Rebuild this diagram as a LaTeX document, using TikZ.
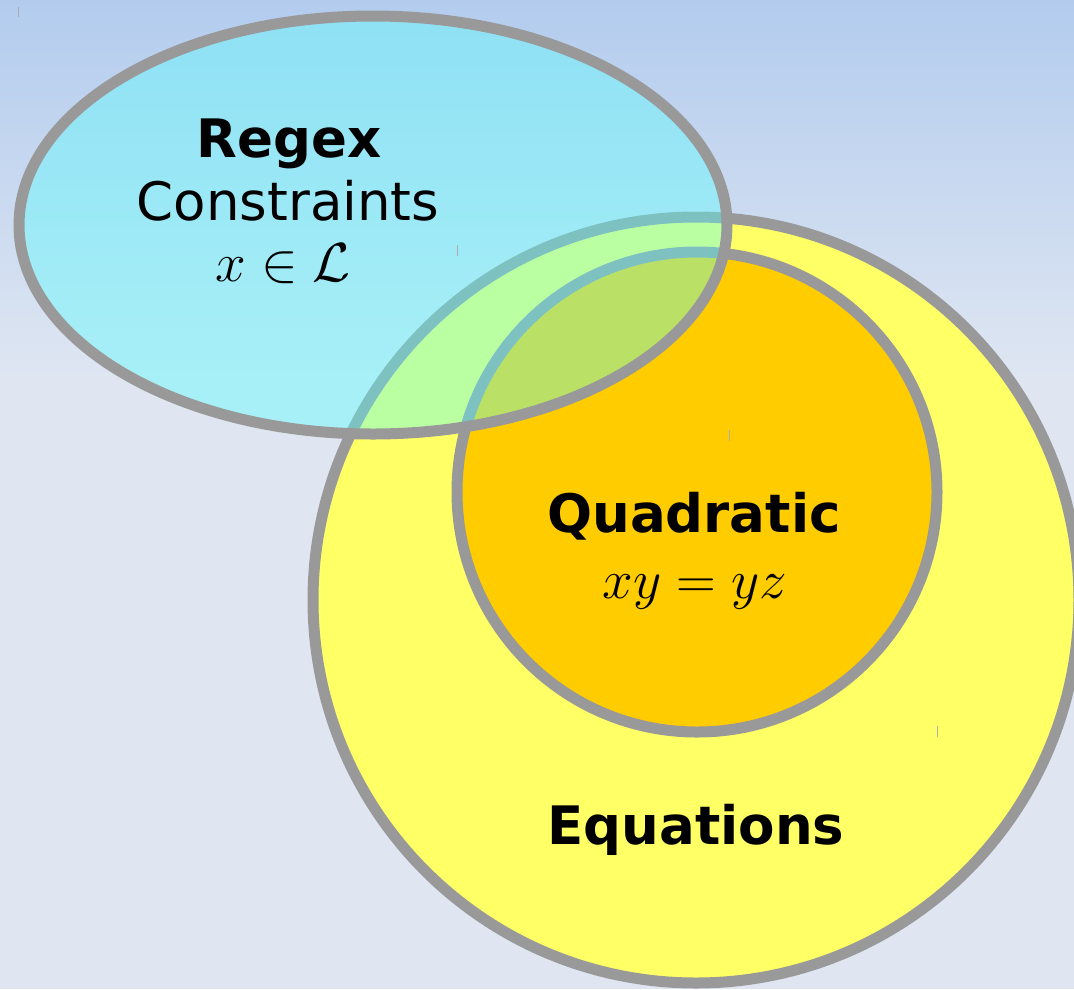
\RequirePackage{fix-cm}
\documentclass[tikz,border=0pt]{standalone}
\usepackage{fontspec}
\newfontfamily\dejavu{DejaVu Sans}
\definecolor{bgtop}{HTML}{B3CCEE}
\definecolor{bgbot}{HTML}{DFE6F2}
\definecolor{ringgray}{HTML}{999999}
\definecolor{eqyellow}{HTML}{FFFF66}
\definecolor{quadorange}{HTML}{FFCC00}
\definecolor{regexcyan}{HTML}{56FFFF}
\tikzset{
  ring/.style={draw=ringgray, line width=11pt},
  label/.style={inner sep=0pt, anchor=base, font=\dejavu\fontsize{53}{63}\selectfont},
  mathlabel/.style={inner sep=0pt, anchor=base, font=\fontsize{55}{65}\selectfont},
  tick/.style={draw=ringgray!80, line width=1pt}
}
\begin{document}
\begin{tikzpicture}[x=1pt,y=-1pt]
\useasboundingbox (0,0) rectangle (1074,989);
% background
\fill[bgbot] (0,0) rectangle (1074,989);
\shade[top color=bgtop, bottom color=bgbot] (0,0) rectangle (1074,380);
% Equations circle
\fill[eqyellow] (696,600) circle[radius=383];
\draw[ring] (696,600) circle[radius=383];
% Quadratic circle
\fill[quadorange] (697,492) circle[radius=240];
\draw[ring] (697,492) circle[radius=240];
% Regex ellipse
\fill[regexcyan, fill opacity=0.4] (373,225) ellipse[x radius=354, y radius=209];
\draw[ring] (373,225) ellipse[x radius=354, y radius=209];
% small marks
\draw[tick] (18,7) -- (18,17);
\draw[tick] (457,245) -- (457,256);
\draw[tick] (729,430) -- (729,441);
\draw[tick] (937,726) -- (937,737);
% texts
\node[label] (regex) at (289,157) {\bfseries Regex};
\node[label] (constraints) at (288,220) {Constraints};
\node[mathlabel] (lang) at (283,281) {$x \in \mathcal{L}$};
\node[label] (quadratic) at (694,532) {\bfseries Quadratic};
\node[mathlabel] (quadeq) at (695,598) {$xy = yz$};
\node[label] (equations) at (696,844) {\bfseries Equations};
\end{tikzpicture}
\end{document}
